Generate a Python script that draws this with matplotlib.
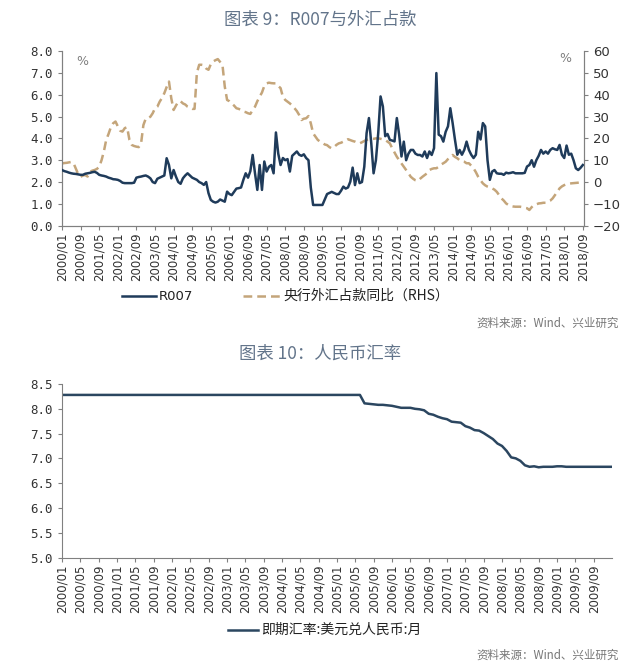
import matplotlib
matplotlib.use("Agg")
import matplotlib.pyplot as plt
import numpy as np

plt.rcParams['font.family'] = ['DejaVu Sans', 'Noto Sans CJK SC']
CJK = ['Noto Sans CJK SC', 'DejaVu Sans']

# 图表9: 月度数据 2000/01 - 2018/09
r007 = [
    2.55, 2.50, 2.47, 2.43, 2.40, 2.38, 2.37, 2.35, 2.33, 2.33, 2.38, 2.40,  # 2000
    2.42, 2.45, 2.47, 2.42, 2.33, 2.30, 2.28, 2.25, 2.20, 2.17, 2.13, 2.12,  # 2001
    2.10, 2.05, 1.97, 1.95, 1.95, 1.95, 1.95, 1.97, 2.20, 2.23, 2.25, 2.28,  # 2002
    2.30, 2.25, 2.17, 2.00, 1.95, 2.15, 2.20, 2.25, 2.30, 3.09, 2.78, 2.17,  # 2003
    2.55, 2.25, 2.00, 1.92, 2.17, 2.30, 2.40, 2.30, 2.20, 2.15, 2.10, 2.00,  # 2004
    1.95, 1.87, 2.00, 1.49, 1.18, 1.10, 1.06, 1.10, 1.20, 1.15, 1.10, 1.56,  # 2005
    1.45, 1.40, 1.55, 1.70, 1.72, 1.75, 2.10, 2.40, 2.20, 2.50, 3.24, 2.40,  # 2006
    1.64, 2.78, 1.64, 2.94, 2.48, 2.70, 2.78, 2.40, 4.27, 3.30, 2.78, 3.10,  # 2007
    3.00, 3.05, 2.48, 3.20, 3.30, 3.40, 3.25, 3.20, 3.27, 3.10, 3.00, 1.75,  # 2008
    0.95, 0.95, 0.95, 0.95, 0.95, 1.20, 1.45, 1.50, 1.55, 1.50, 1.45, 1.45,  # 2009
    1.60, 1.79, 1.70, 1.75, 2.02, 2.66, 1.86, 2.40, 1.95, 2.00, 2.70, 4.24,  # 2010
    4.93, 3.78, 2.40, 3.00, 4.24, 5.92, 5.46, 4.10, 4.20, 3.93, 3.90, 3.86,  # 2011
    4.93, 4.17, 3.17, 3.85, 3.00, 3.30, 3.47, 3.47, 3.30, 3.24, 3.24, 3.17,  # 2012
    3.40, 3.10, 3.40, 3.24, 3.55, 6.99, 4.17, 4.10, 3.85, 4.30, 4.55, 5.38,  # 2013
    4.70, 3.94, 3.25, 3.47, 3.25, 3.47, 3.85, 3.47, 3.25, 3.10, 3.25, 4.30,  # 2014
    3.95, 4.70, 4.55, 3.00, 2.10, 2.48, 2.55, 2.40, 2.38, 2.38, 2.33, 2.43,  # 2015
    2.40, 2.42, 2.45, 2.40, 2.40, 2.40, 2.40, 2.42, 2.71, 2.78, 3.00, 2.70,  # 2016
    3.00, 3.20, 3.47, 3.30, 3.40, 3.30, 3.47, 3.55, 3.50, 3.47, 3.70, 3.25,  # 2017
    3.10, 3.67, 3.25, 3.30, 3.00, 2.63, 2.55, 2.65, 2.78,                    # 2018
]
fx_yoy = [
    8.5, 8.7, 8.8, 9.0, 9.2, 8.5, 6.0, 3.5, 2.4, 3.0, 3.2, 2.5,
    4.7, 5.2, 5.5, 6.0, 7.0, 10.0, 14.0, 19.3, 22.0, 25.1, 26.9, 27.7,
    25.5, 23.5, 23.1, 24.7, 25.1, 19.3, 17.0, 16.5, 16.2, 16.0, 17.7, 26.1,
    29.0, 29.2, 29.9, 31.5, 33.8, 34.5, 36.8, 38.5, 40.7, 43.5, 46.0, 38.3,
    33.0, 35.0, 36.8, 37.0, 36.0, 35.5, 34.5, 34.0, 33.5, 33.5, 50.0, 53.7,
    53.7, 53.5, 52.0, 51.4, 54.0, 55.2, 55.8, 56.3, 55.0, 53.7, 43.7, 37.6,
    37.0, 36.0, 35.0, 33.8, 33.5, 33.0, 32.3, 32.0, 31.5, 31.2, 33.0, 34.5,
    37.0, 39.1, 41.0, 44.0, 45.2, 45.5, 45.3, 45.2, 45.2, 44.0, 43.0, 39.0,
    37.6, 36.8, 36.0, 35.0, 33.8, 32.5, 30.7, 28.4, 29.0, 29.2, 30.2, 26.9,
    22.3, 20.8, 19.3, 18.5, 18.0, 17.2, 16.9, 16.0, 15.4, 16.0, 17.0, 17.7,
    18.0, 18.5, 19.0, 19.6, 19.2, 18.8, 18.5, 18.0, 17.7, 18.2, 18.8, 19.3,
    19.5, 19.7, 19.8, 20.0, 20.0, 19.8, 19.5, 19.3, 18.5, 17.7, 15.5, 13.5,
    11.6, 10.0, 8.5, 7.0, 5.5, 4.0, 2.4, 1.5, 0.8, 0.5, 1.5, 2.4,
    3.2, 4.0, 5.5, 6.0, 6.3, 6.3, 7.0, 8.0, 8.6, 9.3, 10.5, 11.5,
    12.4, 11.5, 10.9, 10.0, 9.5, 9.3, 8.6, 8.6, 7.5, 6.3, 4.5, 2.4,
    0.8, -0.6, -1.5, -2.1, -2.5, -2.9, -3.5, -4.5, -6.0, -7.5, -8.5, -9.8,
    -10.5, -11.0, -11.2, -11.3, -11.3, -11.3, -11.5, -11.8, -12.0, -12.8, -11.5, -10.5,
    -10.2, -9.8, -9.7, -9.5, -9.5, -9.0, -8.5, -7.5, -6.0, -4.5, -2.9, -2.0,
    -1.4, -1.0, -0.8, -0.6, -0.5, -0.4, -0.3, -0.2, 0.0,
]

# 图表10: 人民币汇率 2000/01 - 2010/01
usdcny = [
    8.28, 8.28, 8.28, 8.28, 8.28, 8.28, 8.28, 8.28, 8.28, 8.28, 8.28, 8.28,  # 2000
    8.28, 8.28, 8.28, 8.28, 8.28, 8.28, 8.28, 8.28, 8.28, 8.28, 8.28, 8.28,  # 2001
    8.28, 8.28, 8.28, 8.28, 8.28, 8.28, 8.28, 8.28, 8.28, 8.28, 8.28, 8.28,  # 2002
    8.28, 8.28, 8.28, 8.28, 8.28, 8.28, 8.28, 8.28, 8.28, 8.28, 8.28, 8.28,  # 2003
    8.28, 8.28, 8.28, 8.28, 8.28, 8.28, 8.28, 8.28, 8.28, 8.28, 8.28, 8.28,  # 2004
    8.28, 8.28, 8.28, 8.28, 8.28, 8.28, 8.11, 8.10, 8.09, 8.08, 8.08, 8.07,  # 2005
    8.06, 8.04, 8.02, 8.02, 8.02, 8.00, 7.99, 7.97, 7.90, 7.88, 7.84, 7.81,  # 2006
    7.79, 7.74, 7.73, 7.72, 7.65, 7.62, 7.57, 7.56, 7.51, 7.45, 7.39, 7.30,  # 2007
    7.25, 7.15, 7.02, 7.00, 6.95, 6.86, 6.83, 6.84, 6.82, 6.83, 6.83, 6.83,  # 2008
    6.84, 6.84, 6.83, 6.83, 6.83, 6.83, 6.83, 6.83, 6.83, 6.83, 6.83, 6.83,  # 2009
    6.83,                                                                    # 2010
]


def month_labels(n, step):
    labels = []
    for m in range(0, n, step):
        labels.append('%d/%02d' % (2000 + m // 12, m % 12 + 1))
    return labels


navy = '#1f3b5a'
tan = '#c4a57a'
grey = '#808080'
title_c = '#62748a'
mono = 'DejaVu Sans Mono'

fig = plt.figure(figsize=(6.4, 6.66), dpi=100)

# ---------------- 图表 9 ----------------
fig.text(0.5, 0.970, '图表 9：R007与外汇占款', ha='center', va='center',
         fontsize=12.5, color=title_c, family=CJK)

ax1 = fig.add_axes([0.0969, 0.6611, 0.8156, 0.2623])
ax2 = ax1.twinx()
ax1.plot(np.arange(len(r007)), r007, color=navy, lw=1.8, zorder=3)
ax2.plot(np.arange(len(fx_yoy)), fx_yoy, color=tan, lw=1.8, ls=(0, (3.5, 2.0)))
ax1.set_zorder(ax2.get_zorder() + 1)
ax1.patch.set_visible(False)

ax1.set_xlim(0, 224.5)
ax1.set_ylim(0, 8)
ax2.set_ylim(-20, 60)
ax1.set_yticks(np.arange(0, 8.1, 1.0))
ax1.set_yticklabels(['%.1f' % v for v in np.arange(0, 8.1, 1.0)], family=mono)
ax2.set_yticks(np.arange(-20, 61, 10))
ax1.set_xticks(np.arange(0, 225, 8))
ax1.set_xticklabels(month_labels(225, 8), rotation=90)

for ax in (ax1, ax2):
    ax.spines['top'].set_visible(False)
    for s in ('left', 'right', 'bottom'):
        ax.spines[s].set_color(grey)
        ax.spines[s].set_linewidth(0.8)
    ax.tick_params(colors='#333333', labelsize=9, length=3, width=0.8)
ax1.tick_params(axis='x', labelsize=8.5, pad=2)
ax1.tick_params(axis='both', color=grey)
ax2.tick_params(axis='y', color=grey, labelsize=9.5)
ax1.text(0.028, 0.92, '%', transform=ax1.transAxes, color=grey, fontsize=9)
ax2.text(0.975, 0.935, '%', transform=ax2.transAxes, color=grey, fontsize=9, ha='right')

# 图例
y_leg = 1 - 296 / 666
lg1 = plt.Line2D([122 / 640, 156 / 640], [y_leg, y_leg], color=navy, lw=1.8,
                 transform=fig.transFigure)
lg2 = plt.Line2D([243 / 640, 280 / 640], [y_leg, y_leg], color=tan, lw=1.8,
                 ls=(0, (3.5, 2.0)), transform=fig.transFigure)
fig.lines.extend([lg1, lg2])
fig.text(159 / 640, y_leg, 'R007', va='center', fontsize=9.5, color='#222222')
fig.text(283 / 640, y_leg, '央行外汇占款同比（RHS）', va='center', fontsize=10,
         color='#222222', family=CJK)
fig.text(619 / 640, 1 - 323 / 666, '资料来源：Wind、兴业研究', ha='right', va='center',
         fontsize=8.3, color='#777777', family=CJK)

# ---------------- 图表 10 ----------------
fig.text(0.5, 1 - 354 / 666, '图表 10：人民币汇率', ha='center', va='center',
         fontsize=12.5, color=title_c, family=CJK)

ax3 = fig.add_axes([0.0969, 0.1629, 0.8594, 0.2605])
ax3.plot(np.arange(len(usdcny)), usdcny, color='#2b4660', lw=1.8)
ax3.set_xlim(0, 120)
ax3.set_ylim(5.0, 8.5)
ax3.set_yticks(np.arange(5.0, 8.51, 0.5))
ax3.set_yticklabels(['%.1f' % v for v in np.arange(5.0, 8.51, 0.5)], family=mono)
ax3.set_xticks(np.arange(0, 120, 4))
ax3.set_xticklabels(month_labels(120, 4), rotation=90)
ax3.spines['top'].set_visible(False)
ax3.spines['right'].set_visible(False)
for s in ('left', 'bottom'):
    ax3.spines[s].set_color(grey)
    ax3.spines[s].set_linewidth(0.8)
ax3.tick_params(colors='#333333', labelsize=9, length=3, width=0.8)
ax3.tick_params(axis='x', labelsize=8.5, pad=2)
ax3.tick_params(axis='both', color=grey)

y_leg3 = 1 - 630 / 666
lg3 = plt.Line2D([228 / 640, 258 / 640], [y_leg3, y_leg3], color='#2b4660', lw=1.8,
                 transform=fig.transFigure)
fig.lines.append(lg3)
fig.text(261 / 640, y_leg3, '即期汇率:美元兑人民币:月', va='center', fontsize=10,
         color='#222222', family=CJK)
fig.text(619 / 640, 1 - 655 / 666, '资料来源：Wind、兴业研究', ha='right', va='center',
         fontsize=8.3, color='#777777', family=CJK)

fig.savefig('out.png', dpi=100, facecolor='white')
